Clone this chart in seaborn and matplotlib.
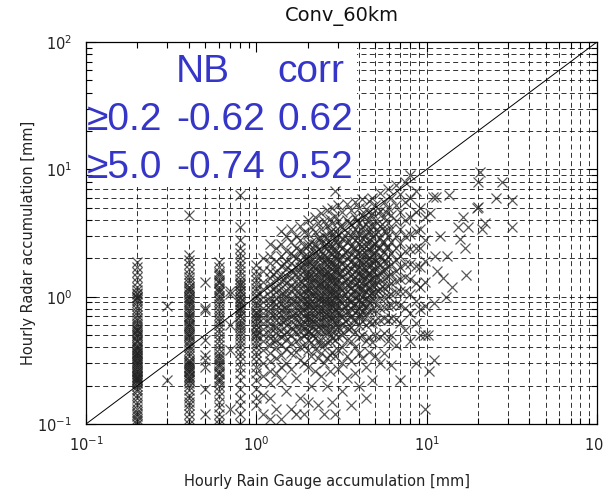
import numpy as np
import pandas as pd
import matplotlib
matplotlib.use("Agg")
import matplotlib.pyplot as plt
import seaborn as sns
from matplotlib.ticker import LogLocator, FuncFormatter, NullFormatter
from matplotlib.patches import Rectangle

# ---------------- text ----------------
title = "Conv_60km"
x_label = "Hourly Rain Gauge accumulation [mm]"
y_label = "Hourly Radar accumulation [mm]"
table_header = ["NB", "corr"]
table_thresholds = ["\u22650.2", "\u22655.0"]
table_nb = ["-0.62", "-0.74"]
table_corr = ["0.62", "0.52"]

# ---------------- data ----------------
# gauge value of each column of points, and the radar values in that column
gauge_cols = [0.2, 0.3, 0.4, 0.5, 0.6, 0.7, 0.8, 1.0,
              1.1, 1.2, 1.3, 1.4, 1.5, 1.6, 1.7, 1.8, 1.9, 2.0,
              2.1, 2.2, 2.3, 2.4, 2.5, 2.6, 2.7, 2.8, 2.9, 3.0,
              3.2, 3.4, 3.6, 3.8, 4.0, 4.2, 4.4, 4.6, 4.8, 5.0,
              5.3, 5.6, 5.9, 6.2, 6.6, 7.0, 7.5, 8.0, 8.6, 9.2, 9.8,
              1.25, 1.45, 1.65, 1.85, 1.95, 2.05, 2.15, 2.35, 2.55, 2.75, 2.95,
              3.1, 3.3, 3.5, 3.7, 3.9, 4.1, 4.3, 4.5, 4.7, 4.9, 5.15, 5.45, 5.75]
radar_cols = [
    # 0.2
    [1.88, 1.7, 1.55, 1.42, 1.3, 1.2, 1.12, 1.06, 1.0, 0.95, 0.9, 0.85, 0.8, 0.76, 0.72,
     0.68, 0.65, 0.62, 0.6, 0.58, 0.56, 0.54, 0.52, 0.5, 0.48, 0.46, 0.44, 0.42, 0.4,
     0.39, 0.38, 0.37, 0.36, 0.35, 0.34, 0.33, 0.32, 0.31, 0.3, 0.29, 0.28, 0.27, 0.26,
     0.25, 0.245, 0.24, 0.235, 0.23, 0.225, 0.22, 0.215, 0.21, 0.2, 0.19, 0.18, 0.17,
     0.16, 0.15, 0.14, 0.13, 0.125, 0.12, 0.115, 0.11, 0.105, 0.1,
     1.05, 1.0, 0.97, 0.55, 0.5, 0.45, 0.4, 0.36, 0.33, 0.3, 0.28, 0.26, 0.24, 0.22],
    # 0.3
    [0.84, 0.22],
    # 0.4
    [4.4, 2.14, 1.95, 1.8, 1.65, 1.52, 1.42, 1.34, 1.27, 1.2, 1.15, 1.1, 1.05, 1.0, 0.96,
     0.92, 0.88, 0.84, 0.8, 0.77, 0.74, 0.71, 0.68, 0.65, 0.62, 0.6, 0.58, 0.56, 0.54,
     0.52, 0.5, 0.48, 0.46, 0.44, 0.42, 0.4, 0.38, 0.36, 0.34, 0.32, 0.31, 0.3, 0.29,
     0.28, 0.27, 0.26, 0.25, 0.24, 0.23, 0.22, 0.21, 0.2, 0.185, 0.17, 0.16, 0.15, 0.14,
     0.13, 0.12, 0.11, 0.1,
     1.2, 1.1, 1.0, 0.9, 0.7, 0.6, 0.5, 0.3, 0.28, 0.26, 0.24, 0.22],
    # 0.5
    [1.31, 0.82, 0.79, 0.46, 0.35, 0.32, 0.28, 0.19, 0.12],
    # 0.6
    [1.88, 1.7, 1.56, 1.45, 1.36, 1.28, 1.2, 1.14, 1.08, 1.02, 0.97, 0.92, 0.87, 0.82,
     0.77, 0.72, 0.68, 0.64, 0.6, 0.56, 0.52, 0.48, 0.45, 0.42, 0.39, 0.36, 0.34, 0.32,
     0.3, 0.28, 0.26, 0.245, 0.23, 0.215, 0.2, 0.18, 0.165, 0.15, 0.135, 0.12, 0.11, 0.1,
     1.5, 1.3, 1.1, 0.33, 0.29, 0.25, 0.22],
    # 0.7
    [1.1, 1.04, 0.6, 0.38, 0.13],
    # 0.8
    [6.3, 3.55, 2.8, 2.4, 2.2, 2.0, 1.85, 1.7, 1.58, 1.47, 1.38, 1.3, 1.23, 1.16, 1.1,
     1.04, 0.98, 0.93, 0.88, 0.83, 0.78, 0.74, 0.7, 0.66, 0.62, 0.58, 0.55, 0.52, 0.49,
     0.46, 0.43, 0.4, 0.37, 0.34, 0.31, 0.28, 0.25, 0.22, 0.19, 0.16, 0.14, 0.12, 0.1,
     1.25, 1.1, 1.0, 0.9, 0.8, 0.7, 0.6],
    # 1.0
    [1.78, 1.6, 1.46, 1.35, 1.25, 1.17, 1.1, 1.03, 0.97, 0.91, 0.86, 0.81, 0.76, 0.72,
     0.68, 0.64, 0.6, 0.56, 0.52, 0.49, 0.46, 0.43, 0.4, 0.37, 0.34, 0.31, 0.28, 0.25,
     0.22, 0.19, 0.16, 0.14, 0.75, 0.68, 0.6, 0.55, 0.5],
    # 1.1
    [2.0, 1.6, 1.3, 1.15, 1.0, 0.9, 0.82, 0.75, 0.68, 0.62, 0.56, 0.5, 0.45, 0.38, 0.3,
     0.24, 0.17, 0.12],
    # 1.2
    [2.6, 2.1, 1.85, 1.6, 1.4, 1.25, 1.1, 1.0, 0.93, 0.86, 0.8, 0.74, 0.68, 0.62, 0.57,
     0.52, 0.47, 0.42, 0.36, 0.31, 0.26, 0.21, 0.16, 0.11],
    # 1.3
    [2.4, 1.9, 1.55, 1.35, 1.2, 1.08, 0.97, 0.88, 0.8, 0.72, 0.65, 0.58, 0.52, 0.46, 0.4,
     0.33, 0.25, 0.13],
    # 1.4
    [3.3, 2.6, 2.1, 1.75, 1.5, 1.32, 1.17, 1.05, 0.95, 0.87, 0.79, 0.72, 0.66, 0.6, 0.54,
     0.48, 0.42, 0.35, 0.28, 0.22, 0.11],
    # 1.5
    [3.0, 2.3, 1.9, 1.65, 1.45, 1.28, 1.12, 1.0, 0.9, 0.82, 0.74, 0.67, 0.6, 0.53, 0.46,
     0.39, 0.3, 0.18],
    # 1.6
    [3.4, 2.7, 2.2, 1.85, 1.6, 1.4, 1.23, 1.1, 0.98, 0.88, 0.79, 0.71, 0.64, 0.57, 0.5,
     0.43, 0.36, 0.27, 0.13],
    # 1.7
    [3.0, 2.4, 2.0, 1.72, 1.5, 1.32, 1.16, 1.03, 0.92, 0.83, 0.75, 0.67, 0.6, 0.53, 0.45,
     0.37, 0.23, 0.12],
    # 1.8
    [3.6, 2.8, 2.3, 1.95, 1.7, 1.5, 1.33, 1.18, 1.05, 0.94, 0.85, 0.76, 0.68, 0.61, 0.54,
     0.47, 0.4, 0.32, 0.16],
    # 1.9
    [3.2, 2.5, 2.1, 1.8, 1.58, 1.4, 1.24, 1.1, 0.98, 0.88, 0.79, 0.71, 0.63, 0.56, 0.49,
     0.41, 0.3, 0.12],
    # 2.0
    [4.0, 3.1, 2.5, 2.1, 1.82, 1.6, 1.42, 1.27, 1.14, 1.02, 0.92, 0.83, 0.75, 0.67, 0.6,
     0.53, 0.46, 0.38, 0.28, 0.15],
    # 2.1
    [3.5, 2.7, 2.2, 1.9, 1.66, 1.47, 1.3, 1.16, 1.04, 0.93, 0.84, 0.75, 0.67, 0.6, 0.52,
     0.44, 0.34, 0.2],
    # 2.2
    [4.2, 3.2, 2.6, 2.2, 1.9, 1.68, 1.5, 1.34, 1.2, 1.08, 0.97, 0.87, 0.78, 0.7, 0.62,
     0.55, 0.47, 0.39, 0.26],
    # 2.3
    [3.8, 2.9, 2.35, 2.0, 1.75, 1.55, 1.38, 1.23, 1.1, 0.98, 0.88, 0.79, 0.7, 0.62, 0.54,
     0.45, 0.33, 0.14],
    # 2.4
    [4.5, 3.4, 2.7, 2.3, 2.0, 1.76, 1.56, 1.4, 1.25, 1.12, 1.0, 0.9, 0.8, 0.71, 0.63,
     0.55, 0.46, 0.36, 0.24],
    # 2.5
    [3.9, 3.0, 2.45, 2.1, 1.82, 1.6, 1.42, 1.27, 1.13, 1.01, 0.9, 0.8, 0.71, 0.62, 0.53,
     0.42, 0.3, 0.12],
    # 2.6
    [4.8, 3.6, 2.9, 2.4, 2.05, 1.8, 1.6, 1.42, 1.27, 1.14, 1.02, 0.91, 0.81, 0.72, 0.63,
     0.54, 0.44, 0.33, 0.2],
    # 2.7
    [4.1, 3.2, 2.6, 2.2, 1.9, 1.67, 1.48, 1.32, 1.18, 1.05, 0.93, 0.83, 0.73, 0.64, 0.55,
     0.45, 0.35, 0.26],
    # 2.8
    [5.0, 3.8, 3.0, 2.5, 2.15, 1.88, 1.66, 1.48, 1.32, 1.18, 1.05, 0.94, 0.84, 0.74, 0.65,
     0.56, 0.47, 0.37, 0.15],
    # 2.9
    [6.7, 4.3, 3.3, 2.7, 2.3, 2.0, 1.75, 1.55, 1.38, 1.22, 1.09, 0.97, 0.86, 0.76, 0.66,
     0.56, 0.46, 0.34, 0.12],
    # 3.0
    [5.2, 3.9, 3.1, 2.6, 2.25, 1.96, 1.73, 1.54, 1.37, 1.22, 1.09, 0.97, 0.86, 0.76, 0.67,
     0.58, 0.48, 0.38, 0.27],
    # 3.2
    [4.6, 3.5, 2.85, 2.4, 2.08, 1.82, 1.6, 1.42, 1.26, 1.12, 1.0, 0.89, 0.79, 0.69, 0.6,
     0.5, 0.4, 0.3, 0.18],
    # 3.4
    [5.3, 4.0, 3.2, 2.7, 2.3, 2.0, 1.76, 1.56, 1.38, 1.23, 1.1, 0.98, 0.87, 0.77, 0.67,
     0.57, 0.46, 0.34, 0.23],
    # 3.6
    [4.8, 3.7, 3.0, 2.5, 2.15, 1.88, 1.65, 1.46, 1.3, 1.16, 1.03, 0.91, 0.8, 0.69, 0.58,
     0.45, 0.31, 0.14],
    # 3.8
    [5.5, 4.2, 3.4, 2.8, 2.4, 2.08, 1.82, 1.6, 1.42, 1.26, 1.12, 0.99, 0.87, 0.76, 0.65,
     0.53, 0.4, 0.25],
    # 4.0
    [5.0, 3.8, 3.1, 2.6, 2.22, 1.93, 1.7, 1.5, 1.33, 1.18, 1.05, 0.93, 0.82, 0.71, 0.6,
     0.48, 0.36, 0.2],
    # 4.2
    [5.8, 4.4, 3.5, 2.9, 2.5, 2.15, 1.88, 1.65, 1.46, 1.29, 1.14, 1.0, 0.88, 0.76, 0.64,
     0.5, 0.33],
    # 4.4
    [4.9, 3.7, 3.0, 2.5, 2.15, 1.86, 1.62, 1.42, 1.25, 1.1, 0.97, 0.85, 0.73, 0.6, 0.45,
     0.28, 0.16],
    # 4.6
    [5.6, 4.1, 3.3, 2.75, 2.35, 2.02, 1.76, 1.54, 1.35, 1.18, 1.03, 0.9, 0.77, 0.63, 0.48,
     0.37],
    # 4.8
    [6.0, 4.5, 3.6, 2.95, 2.5, 2.15, 1.86, 1.62, 1.41, 1.23, 1.07, 0.92, 0.78, 0.62, 0.44,
     0.22],
    # 5.0
    [5.2, 3.9, 3.1, 2.6, 2.2, 1.9, 1.65, 1.44, 1.25, 1.08, 0.93, 0.79, 0.64, 0.5, 0.34],
    # 5.3
    [6.5, 4.7, 3.6, 2.9, 2.45, 2.1, 1.8, 1.55, 1.34, 1.15, 0.98, 0.82, 0.66, 0.48, 0.3],
    # 5.6
    [5.5, 4.2, 3.3, 2.7, 2.25, 1.9, 1.62, 1.38, 1.17, 0.99, 0.83, 0.68, 0.52, 0.36],
    # 5.9
    [7.0, 5.0, 3.8, 3.0, 2.45, 2.05, 1.72, 1.45, 1.22, 1.02, 0.84, 0.66, 0.45],
    # 6.2
    [6.0, 4.4, 3.4, 2.7, 2.2, 1.82, 1.52, 1.27, 1.05, 0.86, 0.68, 0.5, 0.29],
    # 6.6
    [7.5, 5.2, 3.9, 3.0, 2.4, 1.95, 1.6, 1.32, 1.08, 0.87, 0.67, 0.42],
    # 7.0
    [6.4, 4.6, 3.4, 2.65, 2.1, 1.7, 1.38, 1.1, 0.86, 0.62, 0.22],
    # 7.5
    [8.0, 5.5, 4.0, 3.0, 2.3, 1.8, 1.42, 1.1, 0.82, 0.55],
    # 8.0
    [9.1, 6.0, 4.2, 3.1, 2.35, 1.8, 1.38, 1.04, 0.75, 0.45],
    # 8.6
    [6.8, 4.6, 3.3, 2.4, 1.75, 1.28, 0.92, 0.62, 0.3],
    # 9.2
    [5.0, 3.4, 2.4, 1.7, 1.2, 0.8, 0.5],
    # 9.8
    [4.2, 2.8, 1.9, 1.3, 0.85, 0.5, 0.13],
    # in-between columns of the dense core
    [1.5, 1.15, 0.9, 0.72, 0.58, 0.46],                 # 1.25
    [1.8, 1.35, 1.04, 0.82, 0.65, 0.5],                 # 1.45
    [2.1, 1.55, 1.18, 0.92, 0.72, 0.56],                # 1.65
    [2.3, 1.7, 1.3, 1.0, 0.78, 0.6],                    # 1.85
    [1.95, 1.45, 1.12, 0.87, 0.68, 0.52],               # 1.95
    [2.6, 1.9, 1.45, 1.12, 0.87, 0.68, 0.54],           # 2.05
    [2.4, 1.75, 1.35, 1.05, 0.82, 0.64, 0.5],           # 2.15
    [2.9, 2.1, 1.6, 1.25, 0.98, 0.77, 0.6, 0.42],       # 2.35
    [2.6, 1.95, 1.5, 1.17, 0.92, 0.73, 0.57],           # 2.55
    [3.3, 2.4, 1.8, 1.4, 1.1, 0.87, 0.68, 0.5],         # 2.75
    [2.9, 2.15, 1.65, 1.3, 1.02, 0.8, 0.62],            # 2.95
    [3.6, 2.6, 1.95, 1.5, 1.17, 0.92, 0.72, 0.55],      # 3.1
    [3.0, 2.25, 1.72, 1.34, 1.05, 0.83, 0.64],          # 3.3
    [3.8, 2.75, 2.05, 1.58, 1.22, 0.95, 0.74, 0.56],    # 3.5
    [3.2, 2.4, 1.82, 1.4, 1.1, 0.86, 0.66],             # 3.7
    [4.0, 2.9, 2.15, 1.65, 1.28, 1.0, 0.77],            # 3.9
    [3.4, 2.5, 1.9, 1.48, 1.16, 0.9, 0.7],              # 4.1
    [4.2, 3.0, 2.25, 1.72, 1.34, 1.04, 0.8],            # 4.3
    [3.5, 2.6, 1.98, 1.54, 1.2, 0.93],                  # 4.5
    [4.4, 3.1, 2.3, 1.78, 1.38, 1.07],                  # 4.7
    [3.6, 2.65, 2.0, 1.55, 1.2],                        # 4.9
    [4.5, 3.2, 2.4, 1.85, 1.42, 1.1],                   # 5.15
    [3.7, 2.7, 2.05, 1.58, 1.22],                       # 5.45
    [4.6, 3.3, 2.45, 1.85],                             # 5.75
]
# isolated points at the large gauge values
outlier_gauge = [10.9, 11.4, 13.5, 16.3, 15.3, 17.4, 22.0, 21.0, 31.6, 15.6, 16.7, 13.1,
                 11.2, 17.0, 14.0, 13.0, 11.0, 11.0, 10.3, 20.5, 20.0, 27.8, 25.5, 31.6,
                 19.7, 19.9, 12.0, 11.5, 12.5, 10.5, 10.2]
outlier_radar = [6.1, 6.1, 6.3, 4.2, 3.5, 3.5, 3.8, 3.4, 3.5, 2.85, 2.4, 2.1,
                 2.1, 1.48, 1.2, 1.0, 0.89, 0.32, 0.26, 9.6, 8.0, 8.0, 6.0, 5.75,
                 5.0, 5.1, 3.0, 1.6, 1.4, 4.5, 0.5]
one_to_one = [0.1, 100.0]

# ---------------- build table ----------------
g_all, r_all = [], []
for g, ys in zip(gauge_cols, radar_cols):
    g_all += [g] * len(ys)
    r_all += ys
g_all += outlier_gauge
r_all += outlier_radar
df = pd.DataFrame({"gauge": g_all, "radar": r_all})

# ---------------- figure ----------------
W, H = 603, 491
fig = plt.figure(figsize=(W / 100, H / 100), dpi=100)
fig.patch.set_facecolor("white")
rect = [86 / W, (H - 424) / H, 511 / W, 382 / H]

# background axes: only the dashed grid
gax = fig.add_axes(rect, zorder=0)
ax = fig.add_axes(rect, zorder=1)
for a in (gax, ax):
    a.set_xscale("log")
    a.set_yscale("log")
    a.set_xlim(0.1, 100)
    a.set_ylim(0.1, 100)
    for axis in (a.xaxis, a.yaxis):
        axis.set_major_locator(LogLocator(base=10))
        axis.set_minor_locator(LogLocator(base=10, subs=np.arange(2, 10)))
        axis.set_minor_formatter(NullFormatter())

gax.grid(which="both", linestyle=(0, (6, 4)), color="#111111", linewidth=0.6)
gax.tick_params(which="both", length=0, labelbottom=False, labelleft=False)
for s in gax.spines.values():
    s.set_visible(False)

ax.patch.set_alpha(0)

# white box behind the statistics table (hides the grid there)
ax.add_patch(Rectangle((0.0, 0.62), 0.53, 0.38, transform=ax.transAxes,
                       facecolor="white", edgecolor="none", zorder=1))

sns.scatterplot(data=df, x="gauge", y="radar", marker="x", color="#222222",
                s=52, linewidth=0.9, alpha=0.75, ax=ax, legend=False, zorder=2)
ax.plot(one_to_one, one_to_one, color="black", linewidth=0.7, zorder=2.2)

ax.set_xlim(0.1, 100)
ax.set_ylim(0.1, 100)

fmt = FuncFormatter(lambda v, p: r"$\mathregular{10^{%d}}$" % int(round(np.log10(v))))
ax.xaxis.set_major_formatter(fmt)
ax.yaxis.set_major_formatter(fmt)
ax.tick_params(which="both", direction="in", top=True, right=True,
               color="black", labelsize=10.5, labelcolor="#222222")
ax.tick_params(which="major", length=7, width=0.8)
ax.tick_params(which="minor", length=4, width=0.8)
ax.tick_params(axis="x", pad=8)
ax.tick_params(axis="y", pad=10)
for s in ax.spines.values():
    s.set_linewidth(0.9)
    s.set_color("black")

ax.set_xlabel(x_label, fontsize=10.5, color="#222222")
ax.set_ylabel(y_label, fontsize=10.5, color="#222222")
ax.xaxis.set_label_coords(0.472, -0.131)
ax.yaxis.set_label_coords(-0.098, 0.474)
ax.set_title(title, fontsize=14, pad=15, color="#111111")

# statistics table
blue = "#3535c8"
fam = ["Liberation Sans", "DejaVu Sans"]
col_x = [0.002, 0.176, 0.374]
row_y = [0.8953, 0.7696, 0.644]
ax.text(col_x[1], row_y[0], table_header[0], transform=ax.transAxes, color=blue,
        fontsize=28, family=fam, va="baseline", ha="left", zorder=3)
ax.text(col_x[2], row_y[0], table_header[1], transform=ax.transAxes, color=blue,
        fontsize=28, family=fam, va="baseline", ha="left", zorder=3)
for i in range(len(table_thresholds)):
    for j, cell in enumerate([table_thresholds[i], table_nb[i], table_corr[i]]):
        ax.text(col_x[j], row_y[i + 1], cell, transform=ax.transAxes, color=blue,
                fontsize=28, family=fam, va="baseline", ha="left", zorder=3)

fig.savefig("out.png", dpi=100)
